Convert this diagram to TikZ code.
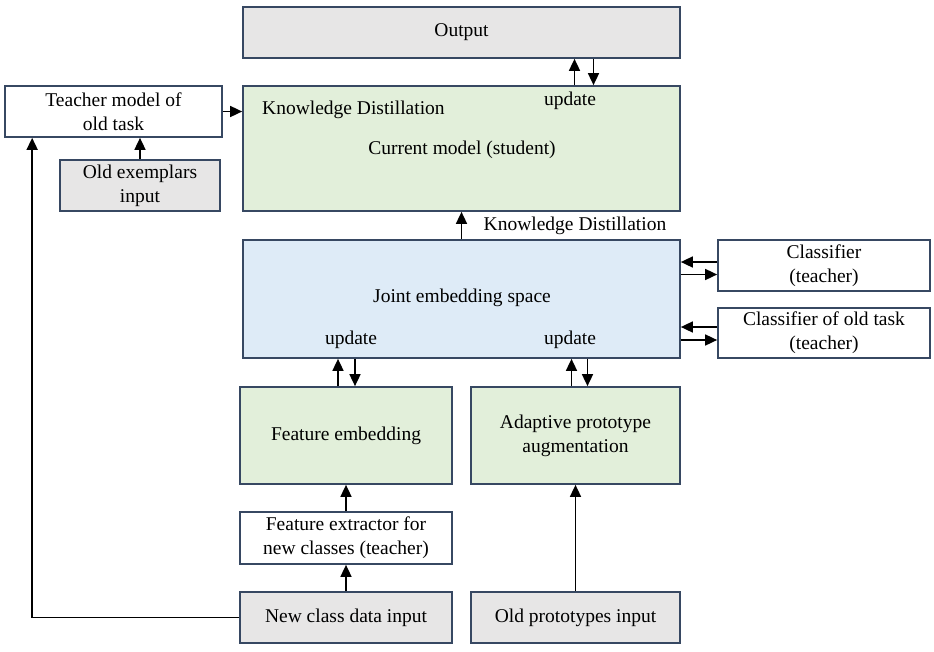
\documentclass[tikz,border=0pt]{standalone}
\usepackage{fontspec}
\setmainfont{Liberation Serif}
\usepackage{tikz}
\usetikzlibrary{arrows.meta}
\definecolor{cb}{RGB}{55,72,98}
\definecolor{cbt}{RGB}{0,0,0}
\definecolor{cg}{RGB}{231,230,230}
\definecolor{c1}{RGB}{226,239,218}
\definecolor{c2}{RGB}{222,235,247}
\tikzstyle{box}=[cbt, draw=cb, line width=1.7pt, align=center, inner sep=0pt]
\tikzstyle{inbox}=[box, fill=cg]
\tikzstyle{plain}=[box, fill=white]
\tikzstyle{layer}=[box, fill=c1]
\tikzstyle{space}=[box, fill=c2]
\tikzstyle{sub}=[cbt, inner sep=0pt]
\tikzstyle{arrow}=[black, line width=1.6pt, -{Triangle[length=12pt,width=11pt]}]

\begin{document}
\begin{tikzpicture}[x=1pt, y=-1pt, font=\fontsize{19.5}{24}\selectfont]
  \useasboundingbox (0,0) rectangle (934,651);

  \node [inbox, minimum width=437pt, minimum height=51pt] (output) at (461.5,32.5) {Output};

  \node [layer, minimum width=437pt, minimum height=125pt] (student) at (461.5,148.5) {};
  \node [sub, anchor=west] (kdin) at (262,110) {Knowledge Distillation};
  \node [sub] (cur) at (462,150) {Current model (student)};
  \node [sub] (upout) at (570,101) {update};

  \node [plain, minimum width=217pt, minimum height=51pt] (teacher) at (113.5,111.5) {Teacher model of\\old task};
  \node [inbox, minimum width=160pt, minimum height=51pt] (exemplars) at (140,185.5) {Old exemplars\\input};

  \node [space, minimum width=437pt, minimum height=118pt] (joint) at (461.5,299) {};
  \node [sub] (jtext) at (462,298) {Joint embedding space};
  \node [sub] (upfeat) at (351,340) {update};
  \node [sub] (upproto) at (570,340) {update};
  \node [sub] (kdout) at (575,226) {Knowledge Distillation};

  \node [plain, minimum width=212pt, minimum height=51pt] (clf) at (824,265.5) {Classifier\\(teacher)};
  \node [plain, minimum width=212pt, minimum height=50pt] (clfold) at (824,333) {Classifier of old task\\(teacher)};

  \node [layer, minimum width=212pt, minimum height=97pt] (featemb) at (346,435.5) {Feature embedding};
  \node [layer, minimum width=209pt, minimum height=97pt] (proto) at (575.5,435.5) {Adaptive prototype\\augmentation};
  \node [plain, minimum width=212pt, minimum height=52pt] (extractor) at (346,538) {Feature extractor for\\new classes (teacher)};
  \node [inbox, minimum width=212pt, minimum height=51pt] (newdata) at (346,617.5) {New class data input};
  \node [inbox, minimum width=209pt, minimum height=51pt] (oldproto) at (575.5,617.5) {Old prototypes input};

  \draw [arrow] ([xshift=113pt]student.north) -- ([xshift=113pt]output.south);
  \draw [arrow] ([xshift=132pt]output.south) -- ([xshift=132pt]student.north);
  \draw [arrow] (teacher.east) -- (teacher.east -| student.west);
  \draw [arrow] (exemplars.north) -- (exemplars.north |- teacher.south);
  \draw [arrow] (newdata.west) -| ([xshift=28pt]teacher.south west);
  \draw [arrow] (joint.north) -- (student.south);
  \draw [arrow] ([yshift=3.5pt]clf.west) -- ([yshift=3.5pt]clf.west -| joint.east);
  \draw [arrow] ([yshift=-9pt]clf.west -| joint.east) -- ([yshift=-9pt]clf.west);
  \draw [arrow] ([yshift=6pt]clfold.west) -- ([yshift=6pt]clfold.west -| joint.east);
  \draw [arrow] ([yshift=-7pt]clfold.west -| joint.east) -- ([yshift=-7pt]clfold.west);
  \draw [arrow] ([xshift=-8pt]featemb.north) -- ([xshift=-8pt]featemb.north |- joint.south);
  \draw [arrow] ([xshift=9pt]featemb.north |- joint.south) -- ([xshift=9pt]featemb.north);
  \draw [arrow] ([xshift=-4pt]proto.north) -- ([xshift=-4pt]proto.north |- joint.south);
  \draw [arrow] ([xshift=12pt]proto.north |- joint.south) -- ([xshift=12pt]proto.north);
  \draw [arrow] (extractor) -- (featemb);
  \draw [arrow] (newdata) -- (extractor);
  \draw [arrow] (oldproto) -- (proto);
\end{tikzpicture}
\end{document}
